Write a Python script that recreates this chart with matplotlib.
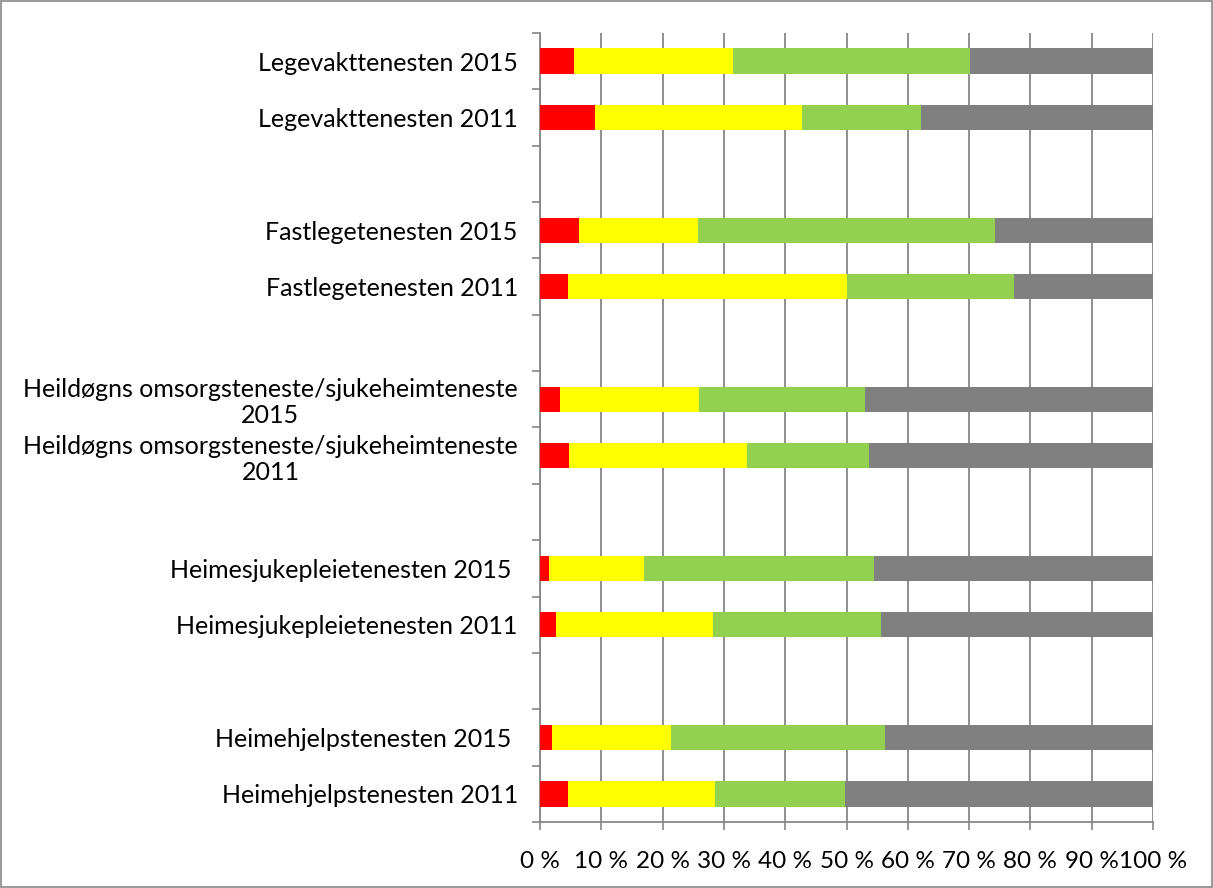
import numpy as np
import matplotlib.pyplot as plt
from matplotlib.patches import Rectangle

# categories bottom -> top, empty strings are spacer rows
labels = ['Heimehjelpstenesten 2011', 'Heimehjelpstenesten 2015 ', '',
          'Heimesjukepleietenesten 2011', 'Heimesjukepleietenesten 2015 ', '',
          'Heildøgns omsorgsteneste/sjukeheimteneste\n2011',
          'Heildøgns omsorgsteneste/sjukeheimteneste\n2015', '',
          'Fastlegetenesten 2011', 'Fastlegetenesten 2015', '',
          'Legevakttenesten 2011', 'Legevakttenesten 2015']

# segment shares in percent (spacer rows are zero)
red = [4.5, 1.9, 0, 2.6, 1.5, 0, 4.8, 3.2, 0, 4.5, 6.4, 0, 8.9, 5.6]
yellow = [24.1, 19.5, 0, 25.6, 15.5, 0, 29.0, 22.8, 0, 45.5, 19.4, 0, 33.8, 25.9]
green = [21.2, 34.8, 0, 27.4, 37.5, 0, 19.8, 27.0, 0, 27.4, 48.5, 0, 19.5, 38.7]
grey = [50.2, 43.8, 0, 44.4, 45.5, 0, 46.4, 47.0, 0, 22.6, 25.7, 0, 37.8, 29.8]

colors = ['#ff0000', '#ffff00', '#92d050', '#808080']
series = [red, yellow, green, grey]

plt.rcParams['font.family'] = ['Lato', 'DejaVu Sans']

fig = plt.figure(figsize=(12.13, 8.88), dpi=100)
W, H = 1213, 888
ax = fig.add_axes([540 / W, 1 - 822 / H, 613 / W, 789 / H])

y = np.arange(len(labels))
left = np.zeros(len(labels))
for vals, c in zip(series, colors):
    vals = np.array(vals)
    ax.barh(y, vals, left=left, height=0.45, color=c, zorder=3)
    left += vals

ax.set_xlim(0, 100)
ax.set_ylim(-0.5, len(labels) - 0.5)
ax.set_xticks(np.arange(0, 101, 10))
ax.set_xticklabels([f'{v} %' for v in range(0, 101, 10)], fontsize=17.5)
ax.set_yticks(y)
ax.set_yticklabels(labels, fontsize=18, multialignment='center', linespacing=1.15)
ax.set_yticks(np.arange(-0.5, len(labels), 1), minor=True)
ax.tick_params(axis='y', which='major', length=0, pad=16)
ax.tick_params(axis='y', which='minor', length=6, width=1.2, color='#868686', direction='out')
ax.tick_params(axis='x', length=6, width=1.2, color='#868686', pad=15)

ax.grid(axis='x', color='#868686', linewidth=1.3, zorder=0)
for s in ['top', 'right']:
    ax.spines[s].set_visible(False)
for s in ['left', 'bottom']:
    ax.spines[s].set_color('#868686')
    ax.spines[s].set_linewidth(1.3)

fig.patches.append(Rectangle((0.001, 0.001), 0.998, 0.998, transform=fig.transFigure,
                             fill=False, edgecolor='#868686', linewidth=1.2))

fig.savefig('out.png', dpi=100)
